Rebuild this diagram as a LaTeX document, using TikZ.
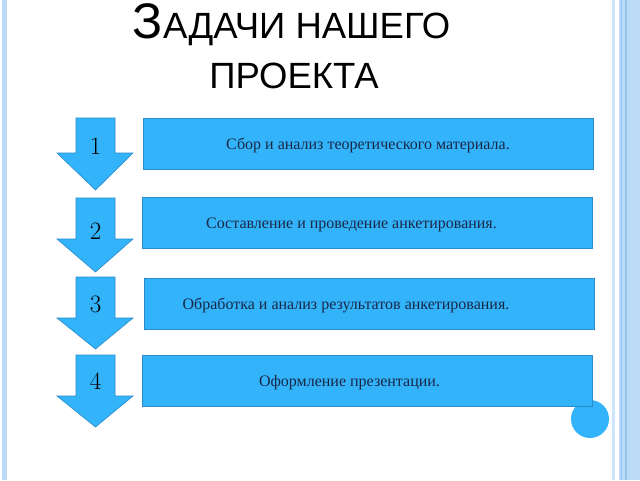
\documentclass[tikz,border=0pt]{standalone}
\usepackage{fontspec}
\newfontfamily\titlefont{Liberation Sans}
\newfontfamily\taskfont{Liberation Serif}
\usetikzlibrary{positioning}
\definecolor{skyfill}{HTML}{33B4FA}
\definecolor{skyline}{HTML}{2A8ACB}
\definecolor{taskink}{HTML}{1A2848}
\definecolor{frameblue}{HTML}{BBDAF6}
\definecolor{framedark}{HTML}{92C3EE}
\tikzset{
    boxnode/.style = {draw=skyline, fill=skyfill, rectangle, line width=0.8pt,
      minimum width=450pt, minimum height=51pt, inner sep=0pt},
    tasknode/.style = {draw=none, fill=none, text=taskink, inner sep=0pt,
      font=\taskfont\fontsize{16}{18}\selectfont},
    numnode/.style = {draw=none, fill=none, inner sep=0pt, font=\fontsize{25}{28}\selectfont},
    arrowshape/.style = {draw=skyline, fill=skyfill, line width=0.6pt, line join=miter},
    titlenode/.style = {draw=none, fill=none, inner sep=0pt, anchor=base,
      font=\titlefont\fontsize{36.5}{40}\selectfont},
    dotnode/.style = {circle, fill=skyfill, inner sep=0pt, minimum size=38pt}
}

\begin{document}
\begin{tikzpicture}[x=1pt, y=-1pt]
\fill[white] (0,0) rectangle (640,480);
\useasboundingbox (0,0) rectangle (640,480);

% frame
\fill[frameblue] (2,0) rectangle (7,480);
\fill[frameblue!70] (612,0) rectangle (614.5,480);
\fill[frameblue] (619,0) rectangle (640,480);
\fill[framedark] (620.5,0) rectangle (622,480);
\fill[framedark] (624.5,0) rectangle (626.5,480);

% title
\node[titlenode] (title1) at (291.5,38) {{\fontsize{50}{54}\selectfont З}АДАЧИ НАШЕГО};
\node[titlenode] (title2) at (294,88) {ПРОЕКТА};

% arrows
\foreach \i/\top/\neck/\tip/\numy in {1/118/153/190/146, 2/198/239/272/231, 3/277/318/349/304, 4/355/396/427/381}{
  \draw[arrowshape] (76,\top) -- (115,\top) -- (115,\neck) -- (133,\neck) -- (95.5,\tip)
    -- (57,\neck) -- (76,\neck) -- cycle;
  \node[numnode] (num\i) at (95.5,\numy) {\i};
}

\node[dotnode] (dot) at (590,419) {};

% tasks
\node[boxnode] (b1) at (368,143.5) {};
\node[boxnode] (b2) at (367.5,222.5) {};
\node[boxnode] (b3) at (369,303.5) {};
\node[boxnode] (b4) at (367.5,381) {};
\node[tasknode] (t1) at ([yshift=-2pt]b1.center) {Сбор и анализ теоретического материала.};
\node[tasknode] (t2) at ([xshift=-16pt, yshift=-2pt]b2.center) {Составление и проведение анкетирования.};
\node[tasknode] (t3) at ([xshift=-23pt, yshift=-2pt]b3.center) {Обработка и анализ результатов анкетирования.};
\node[tasknode] (t4) at ([xshift=-18pt, yshift=-2pt]b4.center) {Оформление презентации.};
\end{tikzpicture}
\end{document}
